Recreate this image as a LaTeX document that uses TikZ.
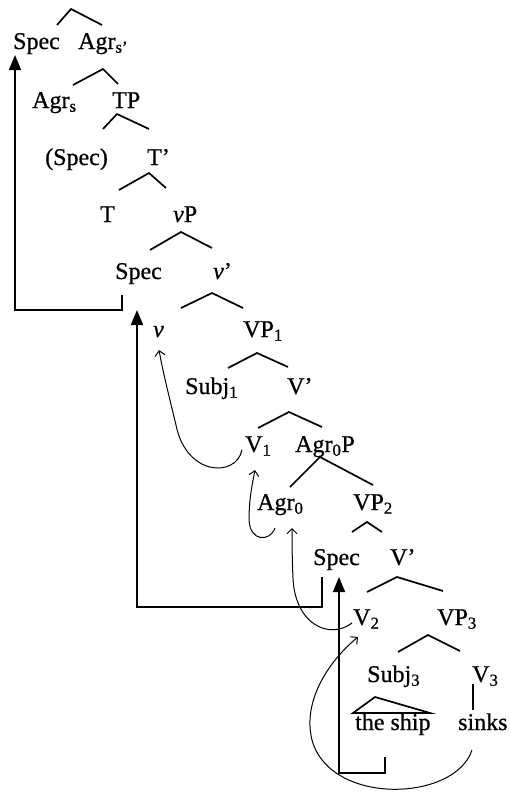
\documentclass[tikz,border=0pt]{standalone}
\usepackage{fontspec}
\setmainfont{Liberation Serif}[FakeBold=0.7]
\usetikzlibrary{arrows.meta}
\begin{document}
\begin{tikzpicture}[x=1pt,y=-1pt,
  tx/.style={anchor=base west,inner sep=0pt,font=\fontsize{24}{28}\selectfont},
  br/.style={line width=1.7pt,line join=miter},
  mv/.style={line width=1.7pt,-{Triangle[length=15pt,width=12pt]}},
  cv/.style={line width=1pt,-{Straight Barb[length=5pt,width=10pt]}}]
\useasboundingbox (0,0) rectangle (510,798);
% labels
\node[tx] (spec1) at (13,49) {Spec};
\node[tx] (agrsb) at (78,49) {Agr\textsubscript{s’}};
\node[tx] (agrs) at (32,108) {Agr\textsubscript{s}};
\node[tx] (tp) at (112,108) {TP};
\node[tx] (spec2) at (45,165) {(Spec)};
\node[tx] (tbar) at (147,165) {T’};
\node[tx] (t) at (100,222) {T};
\node[tx] (vp) at (173,222) {\textit{v}P};
\node[tx] (spec3) at (115,279) {Spec};
\node[tx] (vbar) at (213,279) {\textit{v}’};
\node[tx] (v) at (153,337) {\textit{v}};
\node[tx] (vp1) at (243,337) {VP\textsubscript{1}};
\node[tx] (subj1) at (185,394) {Subj\textsubscript{1}};
\node[tx] (vbar1) at (287,394) {V’};
\node[tx] (v1) at (245,452) {V\textsubscript{1}};
\node[tx] (agrop) at (295,452) {Agr\textsubscript{0}P};
\node[tx] (agro) at (257,510) {Agr\textsubscript{0}};
\node[tx] (vp2) at (353,510) {VP\textsubscript{2}};
\node[tx] (spec4) at (313,565) {Spec};
\node[tx] (vbar2) at (390,565) {V’};
\node[tx] (v2) at (353,625) {V\textsubscript{2}};
\node[tx] (vp3) at (437,625) {VP\textsubscript{3}};
\node[tx] (subj3) at (367,682) {Subj\textsubscript{3}};
\node[tx] (v3) at (472,682) {V\textsubscript{3}};
\node[tx] (ship) at (355,730) {the ship};
\node[tx] (sinks) at (458,730) {sinks};
% branch points
\coordinate (b1l) at (57,25);   \coordinate (b1t) at (71,9);    \coordinate (b1r) at (102,25);
\coordinate (b2l) at (73,85);   \coordinate (b2t) at (103,69);  \coordinate (b2r) at (118,84);
\coordinate (b3l) at (103,129); \coordinate (b3t) at (117,114); \coordinate (b3r) at (149,129);
\coordinate (b4l) at (119,190); \coordinate (b4t) at (149,173); \coordinate (b4r) at (166,188);
\coordinate (b5l) at (150,250); \coordinate (b5t) at (181,232); \coordinate (b5r) at (212,248);
\coordinate (b6l) at (181,308); \coordinate (b6t) at (212,293); \coordinate (b6r) at (243,308);
\coordinate (b7l) at (228,368); \coordinate (b7t) at (257,353); \coordinate (b7r) at (288,367);
\coordinate (b8l) at (258,428); \coordinate (b8t) at (289,412); \coordinate (b8r) at (322,427);
\coordinate (b9l) at (290,487); \coordinate (b9t) at (320,457); \coordinate (b9r) at (373,485);
\coordinate (b10l) at (352,532); \coordinate (b10t) at (367,522); \coordinate (b10r) at (382,532);
\coordinate (b11l) at (367,592); \coordinate (b11t) at (397,577); \coordinate (b11r) at (443,591);
\coordinate (b12l) at (398,652); \coordinate (b12t) at (428,635); \coordinate (b12r) at (460,651);
\coordinate (v3a) at (473,684); \coordinate (v3b) at (473,710);
\coordinate (tra) at (375,697); \coordinate (trl) at (353,713); \coordinate (trr) at (430,713);
\foreach \i in {1,...,12} {\draw[br] (b\i l) -- (b\i t) -- (b\i r);}
\draw[br] (v3a) -- (v3b);
\draw[br] (tra) -- (trl) -- (trr) -- cycle;
% thick movement arrows
\coordinate (a1s) at (122,295); \coordinate (a1e) at (15,55);
\draw[mv] (a1s) -- (122,310) -- (15,310) -- (a1e);
\coordinate (a2s) at (322,577); \coordinate (a2e) at (137,310);
\draw[mv] (a2s) -- (322,607) -- (137,607) -- (a2e);
\coordinate (a3s) at (385,757); \coordinate (a3e) at (339,577);
\draw[mv] (a3s) -- (385,773) -- (339,773) -- (a3e);
% head movement curves
\coordinate (c1s) at (242,450); \coordinate (c1e) at (159,350);
\draw[cv] (c1s) .. controls (236,478) and (186,476) .. (176,425) .. controls (168,392) and (163,372) .. (c1e);
\coordinate (c2s) at (275,528); \coordinate (c2e) at (255,470);
\draw[cv] (c2s) .. controls (270,542) and (250,542) .. (249,520) .. controls (249,500) and (252,485) .. (c2e);
\coordinate (c3s) at (352,623); \coordinate (c3e) at (292,528);
\draw[cv] (c3s) .. controls (330,640) and (295,625) .. (293,578) .. controls (292,555) and (292,540) .. (c3e);
\coordinate (c4s) at (472,750); \coordinate (c4e) at (358,637);
\draw[cv] (c4s) .. controls (455,802) and (330,806) .. (312,740) .. controls (302,700) and (330,660) .. (c4e);
\end{tikzpicture}
\end{document}
